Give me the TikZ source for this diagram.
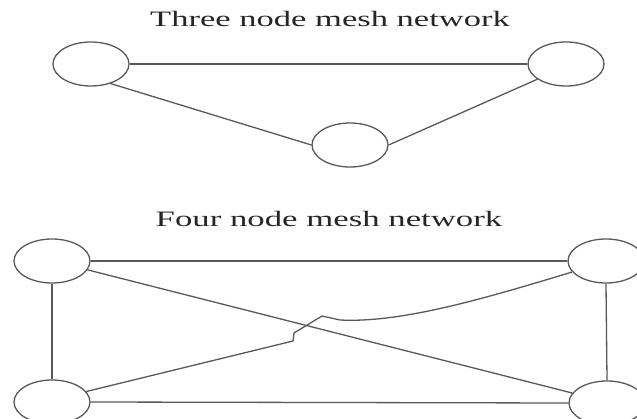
\documentclass[tikz,border=0pt]{standalone}
\usepackage{graphicx}
\usepackage{fontspec}
\setmainfont{Liberation Serif}
\usetikzlibrary{shapes.geometric}
\tikzset{
  meshnode/.style={ellipse, draw=black!65, line width=1.3pt, minimum width=76pt, minimum height=44pt, inner sep=0pt, fill=white},
  link/.style={draw=black!65, line width=1.3pt},
  titletext/.style={anchor=base, inner sep=0pt, text=black!85}
}
\begin{document}
\begin{tikzpicture}[x=1pt,y=1pt]
\useasboundingbox (0,0) rectangle (637,418);
\fill[white] (0,0) rectangle (637,418);

% Three node mesh network
\node[titletext] (t1) at (330,391) {\scalebox{1.57}[1]{\fontsize{22}{26}\selectfont Three node mesh network}};
\node[meshnode] (A) at (91,354) {};
\node[meshnode] (B) at (566,354) {};
\node[meshnode] (C) at (350,273) {};
\draw[link] (A.east) -- (B.west);
\draw[link] (A.-45) -- (C.west);
\draw[link] (C.east) -- (B.208);

% Four node mesh network
\node[titletext] (t2) at (329,191) {\scalebox{1.58}[1]{\fontsize{22}{26}\selectfont Four node mesh network}};
\node[meshnode] (TL) at (52,157) {};
\node[meshnode] (TR) at (606,157) {};
\node[meshnode] (BL) at (52,16) {};
\node[meshnode] (BR) at (607,15) {};
\draw[link] (TL.east) -- (TR.west);
\draw[link] (BL.east) -- (BR.west);
\draw[link] (TL.south) -- (BL.north);
\draw[link] (TR.south) -- (BR.north);
\draw[link] (TL.-14) -- (BR.164);
\coordinate (h1) at (293,77);
\coordinate (h2) at (294,85);
\coordinate (h3) at (322,102);
\coordinate (h4) at (340,98);
\draw[link] (BL.17) -- (h1) -- (h2) -- (h3) -- (h4) .. controls (400,95) and (480,118) .. (TR.198);
\end{tikzpicture}
\end{document}
